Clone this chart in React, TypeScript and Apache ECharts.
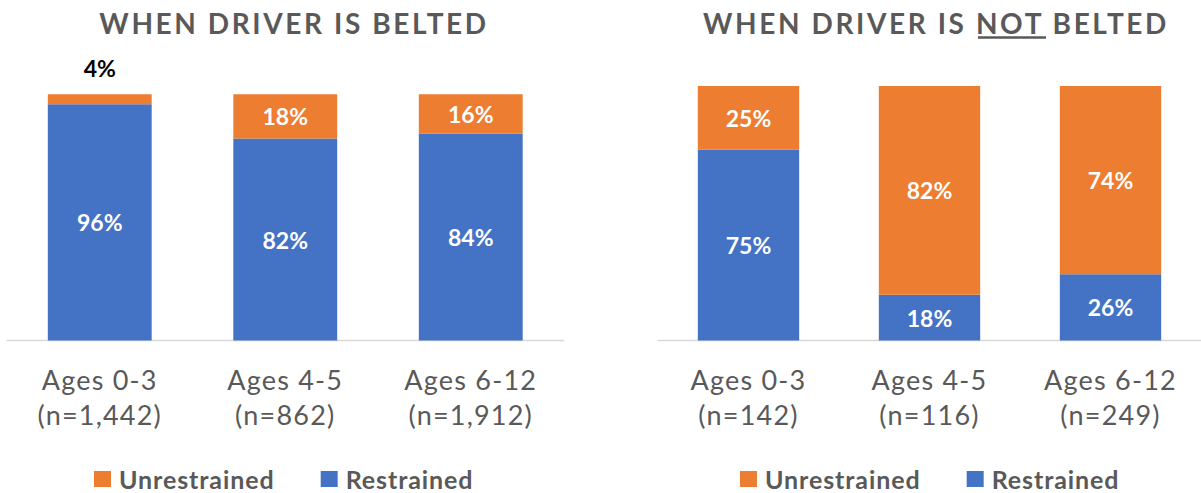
import React, { useEffect, useRef } from "react";
import * as echarts from "echarts";

const categoriesBelted = ["Ages 0-3\n(n=1,442)", "Ages 4-5\n(n=862)", "Ages 6-12\n(n=1,912)"];
const categoriesNotBelted = ["Ages 0-3\n(n=142)", "Ages 4-5\n(n=116)", "Ages 6-12\n(n=249)"];
const beltedRestrained = [96, 82, 84];
const beltedUnrestrained = [4, 18, 16];
const notBeltedRestrained = [75, 18, 26];
const notBeltedUnrestrained = [25, 82, 74];
const titleLeft = "WHEN DRIVER IS BELTED";
const titleRight = "WHEN DRIVER IS NOT BELTED";
const legendNames = ["Unrestrained", "Restrained"];

const ORANGE = "#ED7D31";
const BLUE = "#4472C4";
const GRAY = "#595959";
const FONT = "Lato, 'Open Sans', sans-serif";

export default function App() {
  const ref = useRef<HTMLDivElement>(null);
  useEffect(() => {
    if (!ref.current) return;
    const chart = echarts.init(ref.current, null, { renderer: "svg" });

    const xAxisBase = (gridIndex: number, data: string[]) => ({
      type: "category",
      gridIndex,
      data,
      axisTick: { show: false },
      axisLine: { lineStyle: { color: "#D9D9D9", width: 1.3 } },
      axisLabel: {
        color: GRAY,
        fontFamily: FONT,
        fontSize: 27,
        lineHeight: 35,
        margin: 21,
        interval: 0,
      },
    });
    const yAxisBase = (gridIndex: number) => ({
      type: "value",
      gridIndex,
      min: 0,
      max: 100,
      show: false,
      splitLine: { show: false },
    });
    const barLabel = {
      show: true,
      position: "inside",
      color: "#FFFFFF",
      fontFamily: FONT,
      fontWeight: "bold",
      fontSize: 23,
      formatter: "{c}%",
    };
    const legendBase = (left: number) => ({
      data: legendNames,
      left,
      top: 464,
      padding: 0,
      itemWidth: 17,
      itemHeight: 16,
      itemGap: 57,
      icon: "rect",
      selectedMode: false,
      textStyle: {
        color: GRAY,
        fontFamily: FONT,
        fontWeight: "bold",
        fontSize: 25,
        lineHeight: 30,
        padding: [0, 0, 0, 3],
      },
    });

    chart.setOption({
      animation: false,
      grid: [
        { left: 7, top: 94.3, width: 556.5, height: 246.2, containLabel: false },
        { left: 658, top: 86, width: 549, height: 254.5, containLabel: false },
      ],
      xAxis: [xAxisBase(0, categoriesBelted), xAxisBase(1, categoriesNotBelted)],
      yAxis: [yAxisBase(0), yAxisBase(1)],
      legend: [legendBase(94), legendBase(740)],
      series: [
        {
          name: "Restrained",
          type: "bar",
          stack: "left",
          xAxisIndex: 0,
          yAxisIndex: 0,
          barCategoryGap: "44%",
          itemStyle: { color: BLUE },
          label: barLabel,
          data: beltedRestrained,
        },
        {
          name: "Unrestrained",
          type: "bar",
          stack: "left",
          xAxisIndex: 0,
          yAxisIndex: 0,
          barCategoryGap: "44%",
          itemStyle: { color: ORANGE },
          label: barLabel,
          data: beltedUnrestrained.map((v, i) =>
            i === 0
              ? { value: v, label: { position: "top", color: "#000000", distance: 15 } }
              : v
          ),
        },
        {
          name: "Restrained",
          type: "bar",
          stack: "right",
          xAxisIndex: 1,
          yAxisIndex: 1,
          barCategoryGap: "44%",
          itemStyle: { color: BLUE },
          label: barLabel,
          data: notBeltedRestrained,
        },
        {
          name: "Unrestrained",
          type: "bar",
          stack: "right",
          xAxisIndex: 1,
          yAxisIndex: 1,
          barCategoryGap: "44%",
          itemStyle: { color: ORANGE },
          label: barLabel,
          data: notBeltedUnrestrained,
        },
      ],
      graphic: [
        {
          type: "text",
          x: 294,
          y: 23,
          style: {
            text: titleLeft,
            fill: GRAY,
            font: `bold 28px ${FONT}`,
            textAlign: "center",
            textVerticalAlign: "middle",
          },
        },
        {
          type: "text",
          x: 936,
          y: 23,
          style: {
            text: titleRight,
            fill: GRAY,
            font: `bold 28px ${FONT}`,
            textAlign: "center",
            textVerticalAlign: "middle",
          },
        },
        {
          type: "line",
          shape: { x1: 978, y1: 37.5, x2: 1046, y2: 37.5 },
          style: { stroke: GRAY, lineWidth: 2.7 },
        },
      ],
    });

    const applySpacing = () => {
      const root = ref.current;
      if (!root) return;
      root.querySelectorAll("text").forEach((t) => {
        const s = t.textContent || "";
        if (s.startsWith("WHEN DRIVER")) {
          t.setAttribute("letter-spacing", "2.6px");
        } else if (/^(Ages|\(n=)/.test(s)) {
          t.setAttribute("letter-spacing", "1.2px");
        } else if (s === "Unrestrained" || s === "Restrained") {
          t.setAttribute("letter-spacing", "0.9px");
        }
      });
    };
    applySpacing();
    chart.on("finished", applySpacing);
    const timer = setTimeout(applySpacing, 50);

    return () => {
      clearTimeout(timer);
      chart.dispose();
    };
  }, []);

  return (
    <div
      ref={ref}
      style={{ position: "fixed", left: 0, top: 0, width: 1201, height: 493, background: "#FFFFFF" }}
    />
  );
}
